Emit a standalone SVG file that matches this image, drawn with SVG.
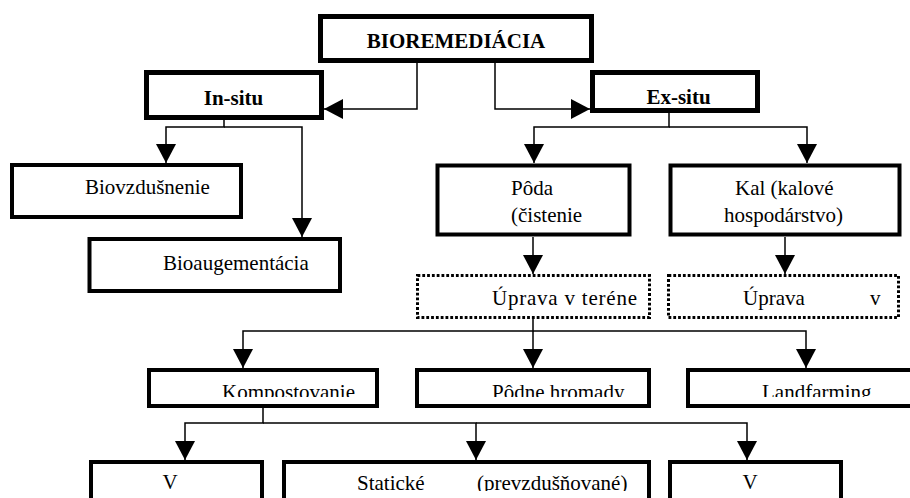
<svg xmlns="http://www.w3.org/2000/svg" width="910" height="498" viewBox="0 0 910 498">
<style>
  .box{fill:#fff;stroke:#000;stroke-width:4}
  .boxb{fill:#fff;stroke:#000;stroke-width:5}
  .dot{fill:#fff;stroke:#000;stroke-width:3;stroke-dasharray:2.8 2}
  .t{font-family:"Liberation Serif","Times New Roman",serif;font-size:21px;fill:#000}
  .b{font-weight:bold}
  .c{fill:none;stroke:#000;stroke-width:1.5;marker-end:url(#ah)}
</style>
<defs>
  <marker id="ah" markerUnits="userSpaceOnUse" viewBox="0 0 19 20" markerWidth="19" markerHeight="20" refX="19" refY="10" orient="auto">
    <path d="M0,0 L19,10 L0,20 z" fill="#000"/>
  </marker>
  <clipPath id="clipRow3"><rect x="0" y="0" width="910" height="397"/></clipPath>
  <clipPath id="clipRow4"><rect x="0" y="0" width="910" height="491"/></clipPath>
</defs>
<rect width="910" height="498" fill="#fff"/>

<g id="connectors">
  <path class="c" d="M417,61 V109 H324"/>
  <path class="c" d="M495,61 V109 H590"/>
  <path class="c" d="M224,120 V127 H166 V163"/>
  <path class="c" d="M224,127 H302 V237"/>
  <path class="c" d="M669,113 V127 H534 V163"/>
  <path class="c" d="M669,127 H807 V163"/>
  <path class="c" d="M533,237 V274"/>
  <path class="c" d="M785,237 V274"/>
  <path class="c" d="M533,319 V331 H243 V368"/>
  <path class="c" d="M533,331 V368"/>
  <path class="c" d="M533,331 H806 V368"/>
  <path class="c" d="M263,408 V423 H185 V460"/>
  <path class="c" d="M263,423 H476 V460"/>
  <path class="c" d="M476,423 H747 V460"/>
</g>

<g id="bioremediacia">
  <rect class="boxb" x="320.5" y="16.5" width="271" height="44"/>
  <text class="t b" x="456" y="48" text-anchor="middle">BIOREMEDIÁCIA</text>
</g>
<g id="in-situ">
  <rect class="boxb" x="146.5" y="72.5" width="175" height="45"/>
  <text class="t b" x="233.5" y="105" text-anchor="middle">In-situ</text>
</g>
<g id="ex-situ">
  <rect class="boxb" x="592.5" y="72.5" width="165" height="38"/>
  <text class="t b" x="678.5" y="104" text-anchor="middle">Ex-situ</text>
</g>
<g id="biovzdusnenie">
  <rect class="box" x="12" y="165" width="229" height="52"/>
  <text class="t" x="85" y="194">Biovzdušnenie</text>
</g>
<g id="bioaugementacia">
  <rect class="box" x="89.5" y="239" width="250.5" height="52"/>
  <text class="t" x="163" y="270">Bioaugementácia</text>
</g>
<g id="poda">
  <rect class="box" x="437.5" y="165.5" width="192" height="69"/>
  <text class="t" x="511" y="195">Pôda</text>
  <text class="t" x="511" y="222">(čistenie</text>
</g>
<g id="kal">
  <rect class="box" x="670.5" y="165.5" width="229" height="69"/>
  <text class="t" x="735" y="195">Kal (kalové</text>
  <text class="t" x="724" y="222">hospodárstvo)</text>
</g>
<g id="uprava-teren">
  <rect class="dot" x="417.5" y="275.5" width="232" height="42"/>
  <text class="t" x="492" y="305" textLength="145">Úprava v teréne</text>
</g>
<g id="uprava-v">
  <rect class="dot" x="668.5" y="275.5" width="230" height="42"/>
  <text class="t" x="743" y="305">Úprava</text>
  <text class="t" x="870" y="305">v</text>
</g>
<g id="kompostovanie">
  <rect class="box" x="149" y="370" width="228" height="36"/>
  <text class="t" x="222" y="399" clip-path="url(#clipRow3)">Kompostovanie</text>
</g>
<g id="podne-hromady">
  <rect class="box" x="417" y="370" width="232" height="36"/>
  <text class="t" x="492" y="399" clip-path="url(#clipRow3)">Pôdne hromady</text>
</g>
<g id="landfarming">
  <rect class="box" x="688" y="370" width="240" height="36"/>
  <text class="t" x="762" y="399" clip-path="url(#clipRow3)">Landfarming</text>
</g>
<g id="v-left">
  <rect class="box" x="91" y="462" width="171" height="60"/>
  <text class="t" x="170" y="489" text-anchor="middle" clip-path="url(#clipRow4)">V</text>
</g>
<g id="staticke">
  <rect class="box" x="284" y="462" width="365" height="60"/>
  <text class="t" x="357" y="490" clip-path="url(#clipRow4)">Statické</text>
  <text class="t" x="477" y="490" clip-path="url(#clipRow4)">(prevzdušňované)</text>
</g>
<g id="v-right">
  <rect class="box" x="670" y="462" width="171" height="60"/>
  <text class="t" x="750" y="489" text-anchor="middle" clip-path="url(#clipRow4)">V</text>
</g>
</svg>
